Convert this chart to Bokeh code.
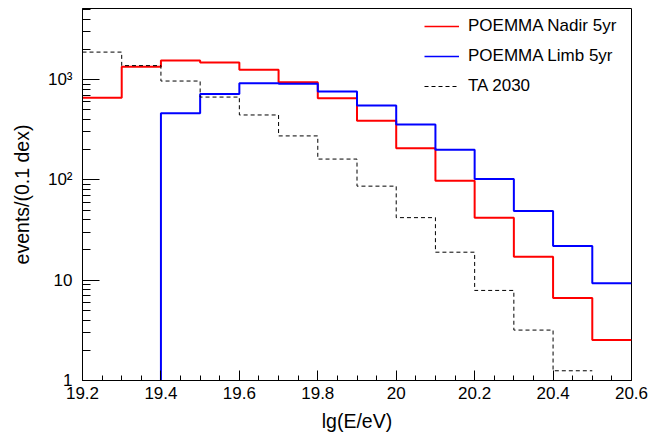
from bokeh.plotting import figure
from bokeh.models import Range1d, FixedTicker, Legend, LegendItem
from bokeh.embed import file_html
from bokeh.resources import INLINE

# ---- data ----
bin_edges = [19.2, 19.3, 19.4, 19.5, 19.6, 19.7, 19.8, 19.9, 20.0, 20.1, 20.2, 20.3, 20.4, 20.5, 20.6]
nadir_5yr = [656, 1340, 1550, 1480, 1250, 940, 650, 389, 206, 98, 42, 17.1, 6.65, 2.53]
limb_5yr = [0, 0, 460, 716, 915, 905, 759, 552, 355, 199, 102, 49, 21.9, 9.3]
ta_2030 = [1875, 1375, 965, 668, 443, 274, 161, 86.5, 42, 19, 7.9, 3.18, 1.25]

x_ticks = [19.2, 19.4, 19.6, 19.8, 20.0, 20.2, 20.4, 20.6]
x_tick_labels = ["19.2", "19.4", "19.6", "19.8", "20", "20.2", "20.4", "20.6"]
y_ticks = [1, 10, 100, 1000]
y_tick_labels = ["1", "10", "10\u00b2", "10\u00b3"]

series_names = ["POEMMA Nadir 5yr", "POEMMA Limb 5yr", "TA 2030"]

FONT = "Liberation Sans"
NAN = float("nan")

p = figure(width=657, height=435, output_backend="svg", toolbar_location=None,
           x_range=Range1d(19.2, 20.6), y_range=Range1d(1, 5100), y_axis_type="log",
           min_border_left=82, min_border_right=26, min_border_top=8, min_border_bottom=55)
p.background_fill_color = "white"
p.border_fill_color = "white"
p.outline_line_color = "black"
p.outline_line_width = 1
p.xgrid.visible = False
p.ygrid.visible = False


def step_xy(edges, vals, floor=1e-3):
    ys = [v if v > 0 else floor for v in vals]
    return list(edges[:len(vals) + 1]), ys + [ys[-1]]


xr, yr = step_xy(bin_edges, nadir_5yr)
r_red = p.step(xr, yr, mode="after", line_color="#ff0000", line_width=2)
xb, yb = step_xy(bin_edges, limb_5yr)
r_blue = p.step(xb, yb, mode="after", line_color="#0000ff", line_width=2)
xt, yt = step_xy(bin_edges, ta_2030)
r_ta = p.step(xt, yt, mode="after", line_color="#000000", line_width=1, line_dash="4 3")

# legend-only thin line samples (no visible data)
l_red = p.line([NAN], [NAN], line_color="#ff0000", line_width=1.3)
l_blue = p.line([NAN], [NAN], line_color="#0000ff", line_width=1.3)
l_ta = p.line([NAN], [NAN], line_color="#000000", line_width=1, line_dash="4 3")

legend = Legend(items=[LegendItem(label=series_names[0], renderers=[l_red]),
                       LegendItem(label=series_names[1], renderers=[l_blue]),
                       LegendItem(label=series_names[2], renderers=[l_ta])],
                location=(342, 284), orientation="vertical")
legend.border_line_color = None
legend.background_fill_alpha = 0
legend.padding = 0
legend.margin = 0
legend.spacing = 10
legend.glyph_width = 35
legend.glyph_height = 20
legend.label_height = 20
legend.label_standoff = 9
legend.label_text_font = FONT
legend.label_text_font_size = "17px"
legend.label_text_color = "black"
p.add_layout(legend)

# x axis
xa = p.xaxis[0]
xa.ticker = FixedTicker(ticks=x_ticks,
                        minor_ticks=[round(19.2 + 0.05 * i, 2) for i in range(29)])
xa.major_label_overrides = {t: s for t, s in zip(x_ticks, x_tick_labels)}
xa.axis_label = "lg(E/eV)"
xa.major_tick_in = 10
xa.major_tick_out = 0
xa.minor_tick_in = 5
xa.minor_tick_out = 0
xa.major_label_standoff = 6
xa.axis_label_standoff = 8
xa.major_label_text_font = FONT
xa.major_label_text_font_size = "17px"
xa.major_label_text_color = "black"
xa.axis_label_text_font = FONT
xa.axis_label_text_font_size = "19.5px"
xa.axis_label_text_font_style = "normal"
xa.axis_label_text_color = "black"
xa.axis_line_color = "black"
xa.major_tick_line_color = "black"
xa.minor_tick_line_color = "black"

# y axis
ya = p.yaxis[0]
minor_y = [m * d for d in (1, 10, 100, 1000) for m in range(2, 10) if m * d < 5100]
ya.ticker = FixedTicker(ticks=y_ticks, minor_ticks=minor_y)
ya.major_label_overrides = {t: s for t, s in zip(y_ticks, y_tick_labels)}
ya.axis_label = "events/(0.1 dex)"
ya.major_tick_in = 17
ya.major_tick_out = 0
ya.minor_tick_in = 8
ya.minor_tick_out = 0
ya.major_label_standoff = 10
ya.axis_label_standoff = 12
ya.major_label_text_font = FONT
ya.major_label_text_font_size = "17px"
ya.major_label_text_color = "black"
ya.axis_label_text_font = FONT
ya.axis_label_text_font_size = "19.5px"
ya.axis_label_text_font_style = "normal"
ya.axis_label_text_color = "black"
ya.axis_line_color = "black"
ya.major_tick_line_color = "black"
ya.minor_tick_line_color = "black"

open("out.html", "w").write(file_html(p, INLINE))
